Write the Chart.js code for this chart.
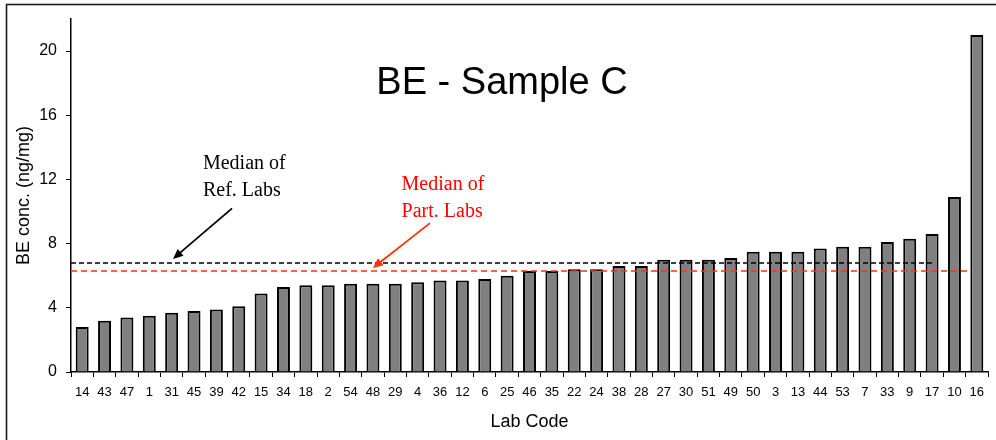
<!DOCTYPE html>
<html>
<head>
<meta charset="utf-8">
<title>BE - Sample C</title>
<script src="https://cdn.jsdelivr.net/npm/chart.js@4"></script>
<style>
  html, body { margin: 0; padding: 0; background: #fff; }
  canvas { display: block; }
</style>
</head>
<body>
<canvas id="beChart" width="996" height="440"></canvas>
<script>
// Lab codes, sorted by result
const labCodes = ['14', '43', '47', '1', '31', '45', '39', '42', '15', '34', '18', '2', '54', '48',
  '29', '4', '36', '12', '6', '25', '46', '35', '22', '24', '38', '28', '27', '30', '51', '49',
  '50', '3', '13', '44', '53', '7', '33', '9', '17', '10', '16'];
// BE concentration (ng/mg) per lab
const beValues = [2.8, 3.2, 3.4, 3.5, 3.7, 3.8, 3.9, 4.1, 4.9, 5.3, 5.4, 5.4, 5.5, 5.5,
  5.5, 5.6, 5.7, 5.7, 5.8, 6.0, 6.3, 6.3, 6.4, 6.4, 6.6, 6.6, 7.0, 7.0, 7.0, 7.1,
  7.5, 7.5, 7.5, 7.7, 7.8, 7.8, 8.1, 8.3, 8.6, 10.9, 21.0];
const yTicks = [0, 4, 8, 12, 16, 20];
const yMax = 22;

// medians
const refMedian = 6.8;
const partMedian = 6.3;

const SANS = '"Liberation Sans", Arial, sans-serif';
const SERIF = '"Liberation Serif", "Times New Roman", serif';

function drawArrow(ctx, x1, y1, x2, y2, color) {
  const ang = Math.atan2(y2 - y1, x2 - x1);
  const len = 10, half = 4.5;
  ctx.save();
  ctx.strokeStyle = color;
  ctx.fillStyle = color;
  ctx.lineWidth = 1.8;
  ctx.beginPath();
  ctx.moveTo(x1, y1);
  ctx.lineTo(x2 - Math.cos(ang) * len * 0.8, y2 - Math.sin(ang) * len * 0.8);
  ctx.stroke();
  ctx.beginPath();
  ctx.moveTo(x2, y2);
  ctx.lineTo(x2 - Math.cos(ang) * len + Math.sin(ang) * half, y2 - Math.sin(ang) * len - Math.cos(ang) * half);
  ctx.lineTo(x2 - Math.cos(ang) * len - Math.sin(ang) * half, y2 - Math.sin(ang) * len + Math.cos(ang) * half);
  ctx.closePath();
  ctx.fill();
  ctx.restore();
}

const annotations = {
  id: 'annotations',
  beforeDraw(chart) {
    // frame around the figure (left and top visible)
    const ctx = chart.ctx;
    ctx.save();
    ctx.strokeStyle = '#1a1a1a';
    ctx.lineWidth = 1.6;
    ctx.strokeRect(6.5, 4.5, 1100, 600);
    ctx.restore();
  },
  afterDatasetsDraw(chart) {
    const { ctx, chartArea, scales: { x, y } } = chart;
    ctx.save();

    // median lines
    ctx.lineWidth = 1.5;
    ctx.setLineDash([5, 3]);
    ctx.strokeStyle = '#000';
    let py = y.getPixelForValue(refMedian);
    ctx.beginPath();
    ctx.moveTo(chartArea.left, py);
    ctx.lineTo(x.getPixelForValue(38), py);
    ctx.stroke();

    ctx.setLineDash([6, 4]);
    ctx.strokeStyle = '#ff3300';
    py = y.getPixelForValue(partMedian);
    ctx.beginPath();
    ctx.moveTo(chartArea.left, py);
    ctx.lineTo(x.getPixelForValue(39.75), py);
    ctx.stroke();
    ctx.setLineDash([]);

    // title inside the plot
    ctx.fillStyle = '#000';
    ctx.font = '38px ' + SANS;
    ctx.textAlign = 'center';
    ctx.textBaseline = 'alphabetic';
    ctx.fillText('BE - Sample C', x.getPixelForValue(18.77), y.getPixelForValue(17.32));

    // labels
    ctx.font = '20px ' + SERIF;
    ctx.textAlign = 'left';
    let tx = x.getPixelForValue(5.4), ty = y.getPixelForValue(12.63);
    ctx.fillStyle = '#000';
    ctx.fillText('Median of', tx, ty);
    ctx.fillText('Ref. Labs', tx, ty + 26.5);

    tx = x.getPixelForValue(14.28);
    ty = y.getPixelForValue(11.34);
    ctx.fillStyle = '#ff0000';
    ctx.fillText('Median of', tx, ty);
    ctx.fillText('Part. Labs', tx, ty + 26.5);

    drawArrow(ctx, x.getPixelForValue(6.7), y.getPixelForValue(10.2),
      x.getPixelForValue(4.06), y.getPixelForValue(7.05), '#000');
    drawArrow(ctx, x.getPixelForValue(15.55), y.getPixelForValue(9.28),
      x.getPixelForValue(13.0), y.getPixelForValue(6.48), '#ff3300');

    ctx.restore();
  }
};

const ctx = document.getElementById('beChart').getContext('2d');
new Chart(ctx, {
  type: 'bar',
  data: {
    labels: labCodes,
    datasets: [{
      data: beValues,
      backgroundColor: '#808080',
      borderColor: '#000',
      borderWidth: 2,
      borderSkipped: 'start',
      barPercentage: 0.58,
      categoryPercentage: 1.0
    }]
  },
  options: {
    responsive: false,
    animation: false,
    layout: { padding: { top: 19, right: 8, left: 0, bottom: 0 } },
    plugins: {
      legend: { display: false },
      title: { display: false },
      tooltip: { enabled: false }
    },
    scales: {
      x: {
        offset: true,
        afterFit(scale) { scale.height = 68; },
        border: { display: true, color: '#000', width: 1.5 },
        grid: { display: true, offset: true, drawOnChartArea: false, drawTicks: true, tickLength: 5, color: '#000', lineWidth: 1 },
        ticks: {
          autoSkip: false, maxRotation: 0, minRotation: 0, padding: 8,
          color: '#000', font: { family: SANS, size: 13 }
        },
        title: {
          display: true, text: 'Lab Code', color: '#000',
          font: { family: SANS, size: 18 }, padding: { top: 0, bottom: 7.5 }
        }
      },
      y: {
        min: 0,
        max: yMax,
        afterFit(scale) { scale.width = 71; },
        afterBuildTicks(scale) { scale.ticks = yTicks.map(v => ({ value: v })); },
        border: { display: true, color: '#000', width: 1.5 },
        grid: { display: true, drawOnChartArea: false, drawTicks: true, tickLength: 5, color: '#000', lineWidth: 1 },
        ticks: {
          padding: 9, color: '#000', font: { family: SANS, size: 16 }
        },
        title: {
          display: true, text: 'BE conc. (ng/mg)', color: '#000',
          font: { family: SANS, size: 18 }, padding: { top: 13, bottom: 0 }
        }
      }
    }
  },
  plugins: [annotations]
});
</script>
</body>
</html>
